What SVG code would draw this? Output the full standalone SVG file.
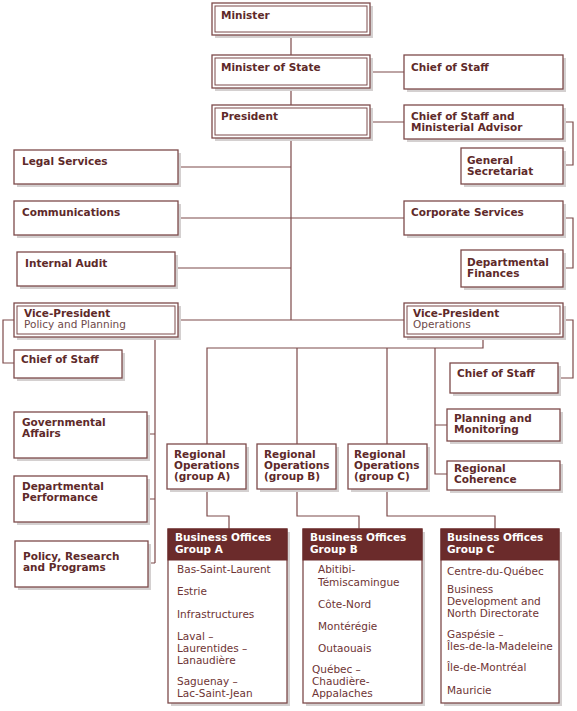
<svg xmlns="http://www.w3.org/2000/svg" width="577" height="711" viewBox="0 0 577 711">
<style>
.sh{fill:#d4d0d0}
.bx{fill:#fff;stroke:#7d4a4a;stroke-width:1.3}
.in{fill:none;stroke:#7d4a4a;stroke-width:1}
.hd{fill:#6b2b2b;stroke:#6b2b2b;stroke-width:1}
.t{font-family:"DejaVu Sans",Verdana,sans-serif;font-size:10.5px;font-weight:bold;fill:#5e2a2a}
.s{font-family:"DejaVu Sans",Verdana,sans-serif;font-size:10.5px;fill:#6e4a4a}
.l{font-family:"DejaVu Sans",Verdana,sans-serif;font-size:10.5px;fill:#6e3434}
.w{font-family:"DejaVu Sans",Verdana,sans-serif;font-size:10.5px;font-weight:bold;fill:#ffffff}
.c{fill:none;stroke:#7d4a4a;stroke-width:1.2}
</style>
<rect width="577" height="711" fill="#fff"/>
<g id="connectors">
<path class="c" d="M291 35V55M291 88V105M291 138V320"/>
<path class="c" d="M370 72H404M370 122H404"/>
<path class="c" d="M563 122H573V165H563"/>
<path class="c" d="M178 167H291M178 218H291M175 268H291M178 320H291"/>
<path class="c" d="M291 218H404M291 320H404"/>
<path class="c" d="M563 218H573V268H563"/>
<path class="c" d="M563 320H573V378H558"/>
<path class="c" d="M14 320H3V363H14"/>
<path class="c" d="M155 337V563M147 434H155M147 499H155M148 563H155"/>
<path class="c" d="M483 337V348H207V444M297 348V444M387 348V444M435 348V474H447M435 425H447"/>
<path class="c" d="M207 489V516H229V529M297 489V516H359V529M387 489V516H495V529"/>
</g>
<g id="minister">
<rect class="sh" x="215" y="6" width="158" height="32"/>
<rect class="bx" x="212" y="3" width="158" height="32"/>
<rect class="in" x="215" y="6" width="152" height="26"/>
<text class="t" x="221" y="19">Minister</text>
</g>
<g id="minister-of-state">
<rect class="sh" x="215" y="58" width="158" height="33"/>
<rect class="bx" x="212" y="55" width="158" height="33"/>
<rect class="in" x="215" y="58" width="152" height="27"/>
<text class="t" x="221" y="71">Minister of State</text>
</g>
<g id="chief-of-staff-top">
<rect class="sh" x="407" y="58" width="159" height="34"/>
<rect class="bx" x="404" y="55" width="159" height="34"/>
<text class="t" x="411" y="71">Chief of Staff</text>
</g>
<g id="president">
<rect class="sh" x="215" y="108" width="158" height="33"/>
<rect class="bx" x="212" y="105" width="158" height="33"/>
<rect class="in" x="215" y="108" width="152" height="27"/>
<text class="t" x="221" y="120">President</text>
</g>
<g id="chief-of-staff-advisor">
<rect class="sh" x="407" y="108" width="159" height="34"/>
<rect class="bx" x="404" y="105" width="159" height="34"/>
<text class="t" x="411" y="120">Chief of Staff and</text>
<text class="t" x="411" y="131">Ministerial Advisor</text>
</g>
<g id="general-secretariat">
<rect class="sh" x="464" y="151" width="102" height="36"/>
<rect class="bx" x="461" y="148" width="102" height="36"/>
<text class="t" x="467" y="164">General</text>
<text class="t" x="467" y="175">Secretariat</text>
</g>
<g id="legal-services">
<rect class="sh" x="17" y="153" width="164" height="34"/>
<rect class="bx" x="14" y="150" width="164" height="34"/>
<text class="t" x="22" y="165">Legal Services</text>
</g>
<g id="communications">
<rect class="sh" x="17" y="204" width="164" height="34"/>
<rect class="bx" x="14" y="201" width="164" height="34"/>
<text class="t" x="22" y="216">Communications</text>
</g>
<g id="internal-audit">
<rect class="sh" x="20" y="255" width="158" height="34"/>
<rect class="bx" x="17" y="252" width="158" height="34"/>
<text class="t" x="25" y="267">Internal Audit</text>
</g>
<g id="corporate-services">
<rect class="sh" x="407" y="204" width="159" height="34"/>
<rect class="bx" x="404" y="201" width="159" height="34"/>
<text class="t" x="411" y="216">Corporate Services</text>
</g>
<g id="departmental-finances">
<rect class="sh" x="464" y="253" width="102" height="37"/>
<rect class="bx" x="461" y="250" width="102" height="37"/>
<text class="t" x="467" y="266">Departmental</text>
<text class="t" x="467" y="277">Finances</text>
</g>
<g id="vp-policy">
<rect class="sh" x="17" y="306" width="164" height="34"/>
<rect class="bx" x="14" y="303" width="164" height="34"/>
<rect class="in" x="17" y="306" width="158" height="28"/>
<text class="t" x="24" y="317">Vice-President</text>
<text class="s" x="24" y="328">Policy and Planning</text>
</g>
<g id="vp-operations">
<rect class="sh" x="407" y="306" width="159" height="34"/>
<rect class="bx" x="404" y="303" width="159" height="34"/>
<rect class="in" x="407" y="306" width="153" height="28"/>
<text class="t" x="413" y="317">Vice-President</text>
<text class="s" x="413" y="328">Operations</text>
</g>
<g id="chief-of-staff-left">
<rect class="sh" x="17" y="353" width="108" height="28"/>
<rect class="bx" x="14" y="350" width="108" height="28"/>
<text class="t" x="21" y="363">Chief of Staff</text>
</g>
<g id="chief-of-staff-right">
<rect class="sh" x="453" y="366" width="108" height="30"/>
<rect class="bx" x="450" y="363" width="108" height="30"/>
<text class="t" x="457" y="377">Chief of Staff</text>
</g>
<g id="planning-monitoring">
<rect class="sh" x="450" y="412" width="113" height="32"/>
<rect class="bx" x="447" y="409" width="113" height="32"/>
<text class="t" x="454" y="422">Planning and</text>
<text class="t" x="454" y="433">Monitoring</text>
</g>
<g id="regional-coherence">
<rect class="sh" x="450" y="464" width="113" height="29"/>
<rect class="bx" x="447" y="461" width="113" height="29"/>
<text class="t" x="454" y="472">Regional</text>
<text class="t" x="454" y="483">Coherence</text>
</g>
<g id="governmental-affairs">
<rect class="sh" x="17" y="415" width="133" height="46"/>
<rect class="bx" x="14" y="412" width="133" height="46"/>
<text class="t" x="22" y="426">Governmental</text>
<text class="t" x="22" y="437">Affairs</text>
</g>
<g id="departmental-performance">
<rect class="sh" x="17" y="479" width="133" height="46"/>
<rect class="bx" x="14" y="476" width="133" height="46"/>
<text class="t" x="22" y="490">Departmental</text>
<text class="t" x="22" y="501">Performance</text>
</g>
<g id="policy-research">
<rect class="sh" x="18" y="544" width="133" height="46"/>
<rect class="bx" x="15" y="541" width="133" height="46"/>
<text class="t" x="23" y="560">Policy, Research</text>
<text class="t" x="23" y="571">and Programs</text>
</g>
<g id="regional-ops-a">
<rect class="sh" x="170" y="447" width="79" height="45"/>
<rect class="bx" x="167" y="444" width="79" height="45"/>
<text class="t" x="174" y="458">Regional</text>
<text class="t" x="174" y="469">Operations</text>
<text class="t" x="174" y="480">(group A)</text>
</g>
<g id="regional-ops-b">
<rect class="sh" x="260" y="447" width="79" height="45"/>
<rect class="bx" x="257" y="444" width="79" height="45"/>
<text class="t" x="264" y="458">Regional</text>
<text class="t" x="264" y="469">Operations</text>
<text class="t" x="264" y="480">(group B)</text>
</g>
<g id="regional-ops-c">
<rect class="sh" x="351" y="447" width="79" height="45"/>
<rect class="bx" x="348" y="444" width="79" height="45"/>
<text class="t" x="354" y="458">Regional</text>
<text class="t" x="354" y="469">Operations</text>
<text class="t" x="354" y="480">(group C)</text>
</g>
<g id="business-offices-a">
<rect class="sh" x="171" y="532" width="119" height="174"/>
<rect class="bx" x="168" y="529" width="119" height="174"/>
<rect class="hd" x="168" y="529" width="119" height="31"/>
<text class="w" x="175" y="541">Business Offices</text>
<text class="w" x="175" y="553">Group A</text>
<text class="l" x="177" y="573">Bas-Saint-Laurent</text>
<text class="l" x="177" y="595">Estrie</text>
<text class="l" x="177" y="618">Infrastructures</text>
<text class="l" x="177" y="640">Laval –</text>
<text class="l" x="177" y="652">Laurentides –</text>
<text class="l" x="177" y="664">Lanaudière</text>
<text class="l" x="177" y="685">Saguenay –</text>
<text class="l" x="177" y="697">Lac-Saint-Jean</text>
</g>
<g id="business-offices-b">
<rect class="sh" x="306" y="532" width="119" height="174"/>
<rect class="bx" x="303" y="529" width="119" height="174"/>
<rect class="hd" x="303" y="529" width="119" height="31"/>
<text class="w" x="310" y="541">Business Offices</text>
<text class="w" x="310" y="553">Group B</text>
<text class="l" x="318" y="573">Abitibi-</text>
<text class="l" x="318" y="586">Témiscamingue</text>
<text class="l" x="318" y="608">Côte-Nord</text>
<text class="l" x="318" y="630">Montérégie</text>
<text class="l" x="318" y="652">Outaouais</text>
<text class="l" x="312" y="673">Québec –</text>
<text class="l" x="312" y="685">Chaudière-</text>
<text class="l" x="312" y="697">Appalaches</text>
</g>
<g id="business-offices-c">
<rect class="sh" x="444" y="532" width="118" height="174"/>
<rect class="bx" x="441" y="529" width="118" height="174"/>
<rect class="hd" x="441" y="529" width="118" height="31"/>
<text class="w" x="447" y="541">Business Offices</text>
<text class="w" x="447" y="553">Group C</text>
<text class="l" x="447" y="575">Centre-du-Québec</text>
<text class="l" x="447" y="593">Business</text>
<text class="l" x="447" y="605">Development and</text>
<text class="l" x="447" y="617">North Directorate</text>
<text class="l" x="447" y="638">Gaspésie –</text>
<text class="l" x="447" y="650">Îles-de-la-Madeleine</text>
<text class="l" x="447" y="671">Île-de-Montréal</text>
<text class="l" x="447" y="694">Mauricie</text>
</g>
</svg>
